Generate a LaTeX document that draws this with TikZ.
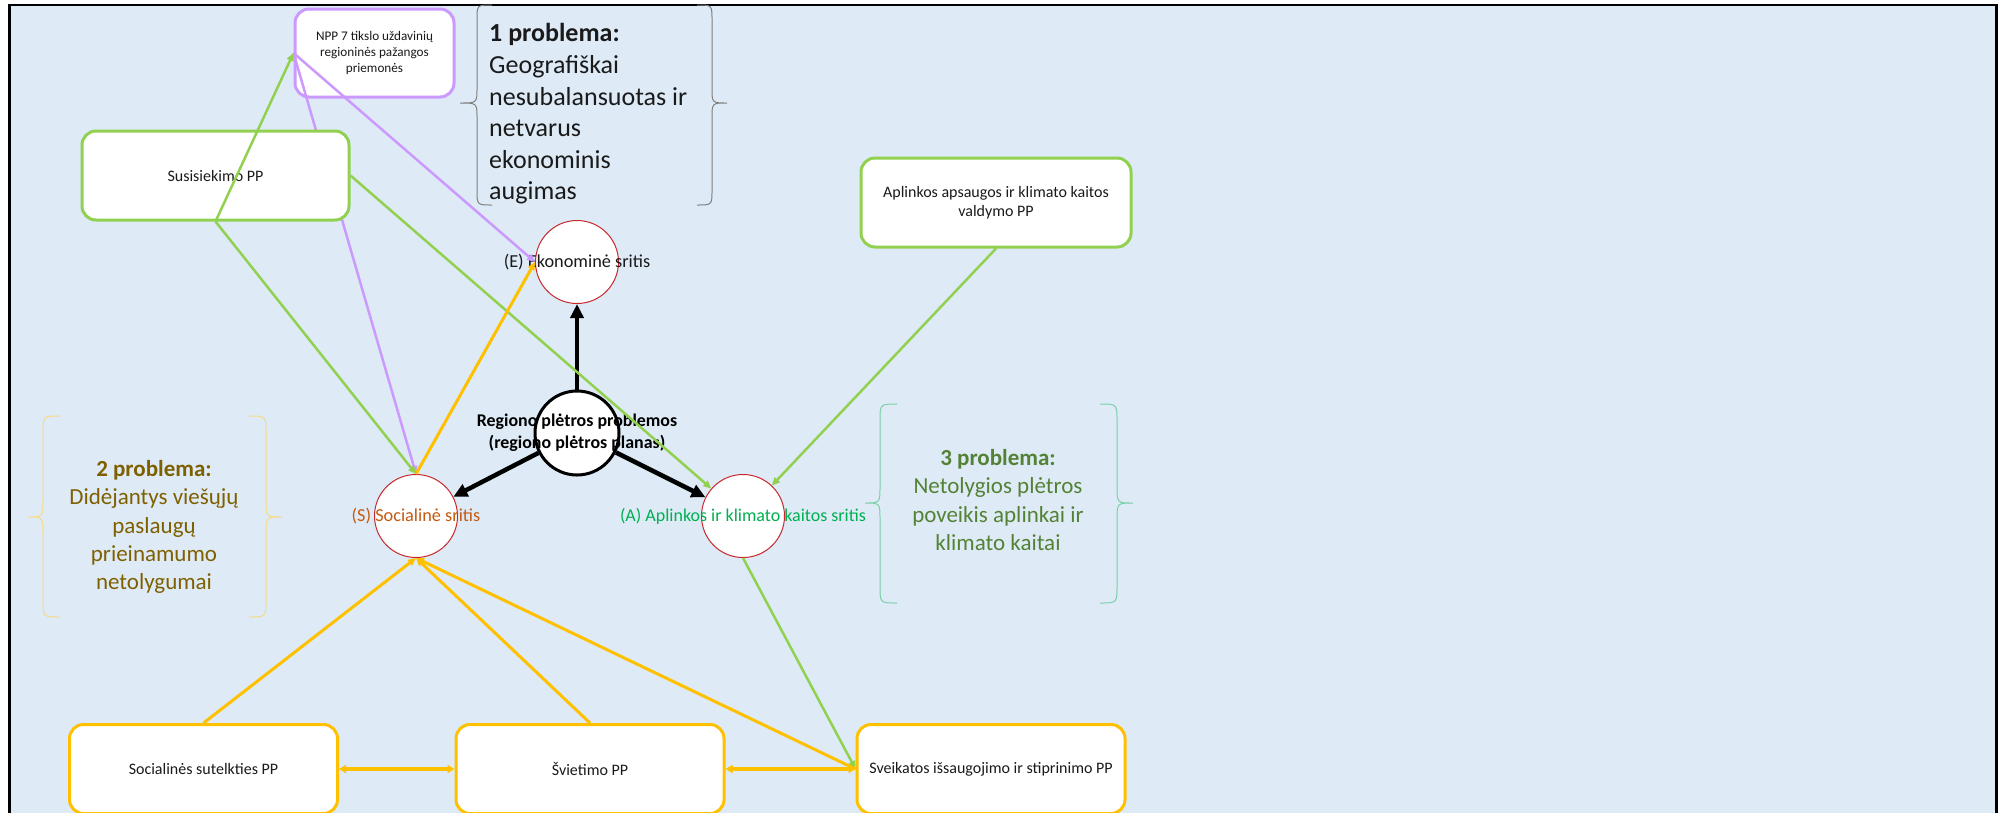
\documentclass[tikz,border=0pt]{standalone}
\usepackage{fontspec}
\setmainfont{Carlito}
\usetikzlibrary{arrows.meta}

\definecolor{bgblue}{HTML}{DEEBF7}
\definecolor{ppgreen}{HTML}{92D050}
\definecolor{pppurple}{HTML}{CC99FF}
\definecolor{ppgold}{HTML}{FFC000}
\definecolor{circred}{HTML}{C8282E}
\definecolor{bracegray}{HTML}{7F7F7F}
\definecolor{bracegold}{HTML}{F8D985}
\definecolor{braceteal}{HTML}{7ACFA5}
\definecolor{txtbrown}{HTML}{7F6000}
\definecolor{txtgreen}{HTML}{548235}
\definecolor{txtorange}{HTML}{C55A11}
\definecolor{txtlime}{HTML}{00B050}
\definecolor{txtdark}{HTML}{1A1A1A}

\tikzset{
  ppbox/.style={rectangle, rounded corners=14pt, fill=white, line width=3pt,
    minimum width=268pt, minimum height=89pt, align=center, text=txtdark,
    font=\fontsize{16}{19}\selectfont},
  sritis/.style={circle, draw=circred, fill=white, line width=1pt,
    minimum size=83pt, inner sep=0pt},
  plink/.style={line width=2.5pt, -{Triangle[length=8pt,width=7pt]}},
  pboth/.style={line width=3.5pt,
    {Triangle[length=7pt,width=8pt]}-{Triangle[length=7pt,width=8pt]}},
  pmain/.style={line width=4.5pt, -{Triangle[length=14pt,width=13pt]}},
}

\begin{document}
\begin{tikzpicture}[x=1pt,y=-1pt]
  \useasboundingbox (0,0) rectangle (2001,812);
  \fill[white] (0,0) rectangle (2001,812);
  \draw[line width=2.5pt, fill=bgblue] (9.5,5) rectangle (1996.5,840);

  % braces
  \draw[bracegray, line width=1pt] (492,5) .. controls (477,5) .. (477,20) -- (477,88) .. controls (477,103) .. (460,103) .. controls (477,103) .. (477,118) -- (477,190) .. controls (477,205) .. (492,205);
  \draw[bracegray, line width=1pt] (697,5) .. controls (712,5) .. (712,20) -- (712,88) .. controls (712,103) .. (727,103) .. controls (712,103) .. (712,118) -- (712,190) .. controls (712,205) .. (697,205);
  \draw[bracegold, line width=1pt] (60,416) .. controls (43,416) .. (43,433) -- (43,500) .. controls (43,517) .. (28,517) .. controls (43,517) .. (43,534) -- (43,600) .. controls (43,617) .. (60,617);
  \draw[bracegold, line width=1pt] (249,416) .. controls (266,416) .. (266,433) -- (266,500) .. controls (266,517) .. (282,517) .. controls (266,517) .. (266,534) -- (266,600) .. controls (266,617) .. (249,617);
  \draw[braceteal, line width=1pt] (897,404) .. controls (880,404) .. (880,421) -- (880,486) .. controls (880,503) .. (865,503) .. controls (880,503) .. (880,520) -- (880,586) .. controls (880,603) .. (897,603);
  \draw[braceteal, line width=1pt] (1100,404) .. controls (1117,404) .. (1117,421) -- (1117,486) .. controls (1117,503) .. (1133,503) .. controls (1117,503) .. (1117,520) -- (1117,586) .. controls (1117,603) .. (1100,603);

  % problems
  \node[anchor=west, align=left, inner sep=0pt, text=txtdark,
    font=\fontsize{26}{31.6}\selectfont] (prob1) at (489,114)
    {\textbf{1 problema:}\\Geografiškai\\nesubalansuotas ir\\netvarus\\ekonominis\\augimas};
  \node[align=center, inner sep=0pt, text=txtbrown,
    font=\fontsize{23}{28.3}\selectfont] (prob2) at (154,527)
    {\textbf{2 problema:}\\Didėjantys viešųjų\\paslaugų\\prieinamumo\\netolygumai};
  \node[align=center, inner sep=0pt, text=txtgreen,
    font=\fontsize{23}{28.3}\selectfont] (prob3) at (998,500)
    {\textbf{3 problema:}\\Netolygios plėtros\\poveikis aplinkai ir\\klimato kaitai};

  % areas
  \node[sritis, label={[text=txtdark, font=\fontsize{18.3}{21}\selectfont]center:(E) Ekonominė sritis}] (E) at (577,262) {};
  \node[sritis, label={[text=txtorange, font=\fontsize{18.3}{21}\selectfont]center:(S) Socialinė sritis}] (S) at (416,516) {};
  \node[sritis, label={[text=txtlime, font=\fontsize{18}{21}\selectfont]center:(A) Aplinkos ir klimato kaitos sritis}] (A) at (743,516) {};
  \node[circle, draw=black, fill=white, line width=3pt, minimum size=84pt, inner sep=0pt,
    label={[align=center, font=\bfseries\fontsize{17.9}{22}\selectfont]center:Regiono plėtros problemos\\(regiono plėtros planas)}] (rpp) at (577,433) {};

  \draw[pmain] (rpp) -- (E);
  \draw[pmain] (rpp) -- (S);
  \draw[pmain] (rpp) -- (A);

  % programmes
  \node[ppbox, draw=pppurple, minimum width=159pt, minimum height=88pt,
    font=\fontsize{13.2}{16}\selectfont] (npp) at (374.5,53)
    {NPP 7 tikslo uždavinių\\regioninės pažangos\\priemonės};
  \draw[plink, pppurple] (npp.west) -- (S.north);
  \draw[plink, pppurple] (npp.west) -- (E.west);

  \node[ppbox, draw=ppgreen, minimum width=267pt] (sus) at (215.5,175.5) {Susisiekimo PP};
  \node[ppbox, draw=ppgreen, minimum width=270pt] (aplink) at (996,202.5) {Aplinkos apsaugos ir klimato kaitos\\valdymo PP};
  \node[ppbox, draw=ppgold] (soc) at (203.5,769) {Socialinės sutelkties PP};
  \node[ppbox, draw=ppgold] (svt) at (590,769) {Švietimo PP};
  \node[ppbox, draw=ppgold] (sveik) at (991,769) {Sveikatos išsaugojimo ir stiprinimo PP};

  \draw[plink, ppgreen] (sus.south) -- (npp.west);
  \draw[plink, ppgreen] (sus.south) -- (S.north);
  \draw[plink, ppgreen] (sus.east) -- (A);
  \draw[plink, ppgreen] (aplink.south) -- (A);
  \draw[plink, ppgreen] (A.south) -- (sveik.west);

  \draw[plink, ppgold, line width=3pt] (S.north) -- (E.west);
  \draw[plink, ppgold, line width=3pt] (soc.north) -- (S.south);
  \draw[plink, ppgold, line width=3pt] (svt.north) -- (S.south);
  \draw[plink, ppgold, line width=3pt] (sveik.west) -- (S.south);

  \draw[pboth, ppgold] (soc.east) -- (svt.west);
  \draw[pboth, ppgold] (svt.east) -- (sveik.west);
\end{tikzpicture}
\end{document}
